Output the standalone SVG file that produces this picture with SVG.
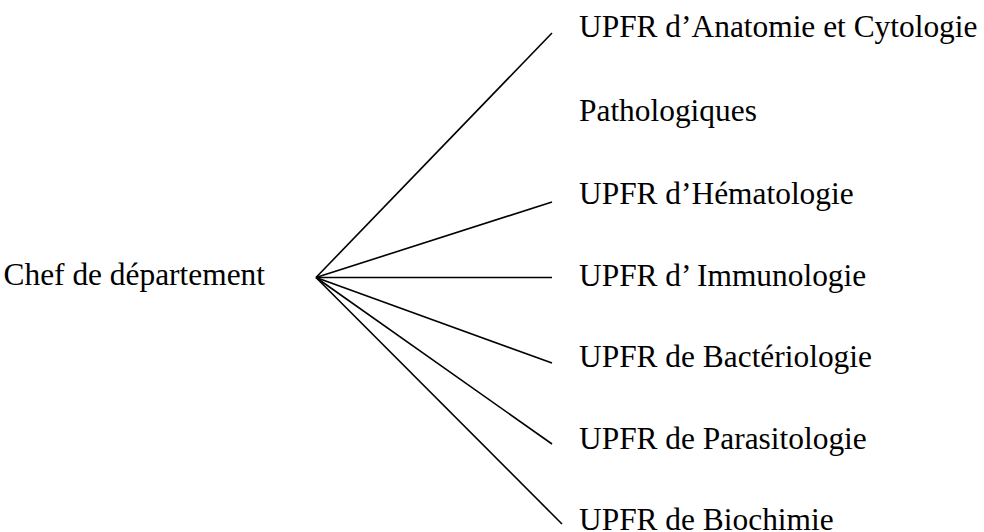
<svg xmlns="http://www.w3.org/2000/svg" width="984" height="532" viewBox="0 0 984 532">
  <style>
    .t { font-family: "Liberation Serif", "Times New Roman", serif; font-size: 31.4px; fill: #000; }
    .c line { stroke: #000; stroke-width: 1.6; fill: none; }
  </style>
  <rect width="984" height="532" fill="#fff"/>
  <g id="connectors" class="c">
    <line x1="316" y1="277.5" x2="552" y2="33"/>
    <line x1="316" y1="277.5" x2="552" y2="202"/>
    <line x1="316" y1="277.5" x2="552" y2="277.5"/>
    <line x1="316" y1="277.5" x2="552" y2="363"/>
    <line x1="316" y1="277.5" x2="552" y2="444"/>
    <line x1="316" y1="277.5" x2="562" y2="524"/>
  </g>
  <g id="chef"><text class="t" x="265" y="285" text-anchor="end">Chef de département</text></g>
  <g id="anatomie">
    <text class="t" x="579" y="37">UPFR d’Anatomie et Cytologie</text>
    <text class="t" x="579" y="121">Pathologiques</text>
  </g>
  <g id="hematologie"><text class="t" x="579" y="204">UPFR d’Hématologie</text></g>
  <g id="immunologie"><text class="t" x="579" y="286">UPFR d’ Immunologie</text></g>
  <g id="bacteriologie"><text class="t" x="579" y="367">UPFR de Bactériologie</text></g>
  <g id="parasitologie"><text class="t" x="579" y="449">UPFR de Parasitologie</text></g>
  <g id="biochimie"><text class="t" x="579" y="530">UPFR de Biochimie</text></g>
</svg>
